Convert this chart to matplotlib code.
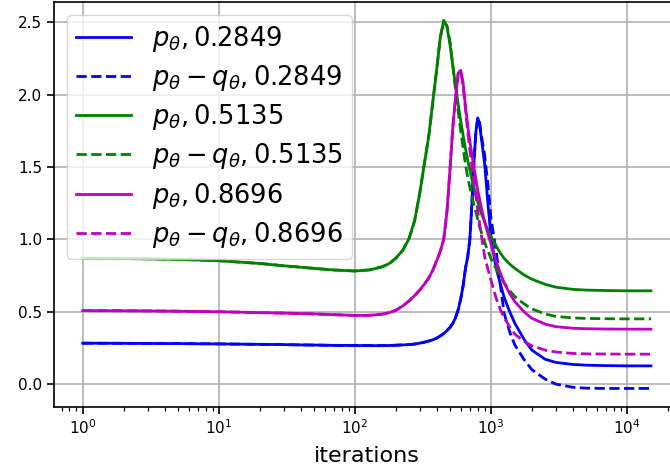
import matplotlib
matplotlib.use("Agg")
import matplotlib.pyplot as plt

# iteration checkpoints (denser around the peaks)
iters = [1, 2, 3, 5, 7, 10, 15, 20, 30, 40,
         50, 70, 100, 130, 160, 180, 200, 225, 250, 275,
         300, 325, 350, 375, 400, 425, 450, 475, 500, 525,
         550, 575, 600, 625, 650, 675, 700, 725, 750, 775,
         800, 825, 850, 875, 900, 950, 1000, 1050, 1100, 1175,
         1250, 1375, 1500, 1750, 2000, 2500, 3000, 4000, 5000, 7000,
         10000, 15000]

# blue run
p_blue = [0.283, 0.282, 0.281, 0.280, 0.279, 0.278, 0.276, 0.275, 0.273, 0.271,
          0.270, 0.268, 0.267, 0.266, 0.266, 0.267, 0.269, 0.271, 0.273, 0.277,
          0.283, 0.290, 0.298, 0.307, 0.318, 0.333, 0.350, 0.370, 0.392, 0.420,
          0.460, 0.515, 0.590, 0.680, 0.800, 0.880, 1.000, 1.250, 1.530, 1.740,
          1.840, 1.800, 1.700, 1.610, 1.520, 1.250, 1.020, 0.890, 0.790, 0.690,
          0.600, 0.500, 0.420, 0.310, 0.235, 0.172, 0.150, 0.136, 0.131, 0.128,
          0.126, 0.126]
pq_blue = [0.283, 0.282, 0.281, 0.280, 0.279, 0.278, 0.276, 0.275, 0.273, 0.271,
           0.270, 0.268, 0.267, 0.266, 0.266, 0.267, 0.269, 0.271, 0.273, 0.277,
           0.283, 0.290, 0.298, 0.307, 0.318, 0.333, 0.350, 0.370, 0.392, 0.420,
           0.460, 0.515, 0.590, 0.680, 0.800, 0.880, 1.000, 1.250, 1.530, 1.740,
           1.840, 1.810, 1.720, 1.650, 1.580, 1.380, 1.150, 1.020, 0.900, 0.680,
           0.490, 0.360, 0.270, 0.170, 0.100, 0.035, 0.000, -0.022, -0.028, -0.030,
           -0.030, -0.030]

# green run
p_green = [0.870, 0.868, 0.866, 0.862, 0.858, 0.853, 0.842, 0.834, 0.818, 0.808,
           0.800, 0.789, 0.782, 0.790, 0.812, 0.835, 0.870, 0.925, 1.005, 1.130,
           1.320, 1.530, 1.720, 1.960, 2.180, 2.400, 2.515, 2.470, 2.350, 2.200,
           2.060, 1.930, 1.820, 1.720, 1.630, 1.550, 1.480, 1.415, 1.360, 1.310,
           1.260, 1.220, 1.180, 1.150, 1.120, 1.065, 1.020, 0.985, 0.950, 0.905,
           0.870, 0.830, 0.800, 0.755, 0.725, 0.690, 0.670, 0.655, 0.650, 0.647,
           0.645, 0.645]
pq_green = [0.870, 0.868, 0.866, 0.862, 0.858, 0.853, 0.842, 0.834, 0.818, 0.808,
            0.800, 0.789, 0.782, 0.790, 0.812, 0.835, 0.870, 0.925, 1.005, 1.130,
            1.320, 1.530, 1.720, 1.960, 2.180, 2.400, 2.500, 2.480, 2.370, 2.200,
            2.030, 1.880, 1.750, 1.630, 1.520, 1.430, 1.360, 1.295, 1.240, 1.190,
            1.140, 1.090, 1.050, 1.015, 0.980, 0.920, 0.870, 0.828, 0.790, 0.742,
            0.700, 0.645, 0.605, 0.555, 0.520, 0.485, 0.468, 0.458, 0.454, 0.452,
            0.451, 0.451]

# magenta run
p_mag = [0.508, 0.507, 0.506, 0.504, 0.502, 0.500, 0.497, 0.494, 0.491, 0.488,
         0.485, 0.480, 0.475, 0.476, 0.484, 0.495, 0.510, 0.540, 0.575, 0.612,
         0.650, 0.692, 0.735, 0.790, 0.855, 0.920, 1.000, 1.190, 1.480, 1.780,
         1.980, 2.150, 2.170, 2.080, 1.920, 1.790, 1.680, 1.585, 1.500, 1.420,
         1.340, 1.280, 1.220, 1.170, 1.120, 1.040, 0.970, 0.900, 0.840, 0.765,
         0.700, 0.625, 0.570, 0.500, 0.455, 0.415, 0.397, 0.386, 0.383, 0.381,
         0.380, 0.380]
pq_mag = [0.508, 0.507, 0.506, 0.504, 0.502, 0.500, 0.497, 0.494, 0.491, 0.488,
          0.485, 0.480, 0.475, 0.476, 0.484, 0.495, 0.510, 0.540, 0.575, 0.612,
          0.650, 0.692, 0.735, 0.790, 0.855, 0.920, 1.000, 1.190, 1.480, 1.780,
          1.980, 2.150, 2.160, 2.060, 1.900, 1.750, 1.620, 1.505, 1.400, 1.300,
          1.200, 1.110, 1.030, 0.955, 0.880, 0.795, 0.720, 0.650, 0.585, 0.515,
          0.460, 0.395, 0.345, 0.295, 0.265, 0.235, 0.222, 0.212, 0.209, 0.208,
          0.207, 0.207]

labels = ["0.2849", "0.5135", "0.8696"]
colors = ["b", "g", "m"]

fig = plt.figure(figsize=(6.7, 4.72), dpi=100)
ax = fig.add_axes([0.081, 0.138, 0.933, 0.858])

runs = [(p_blue, pq_blue), (p_green, pq_green), (p_mag, pq_mag)]
for (p, pq), lab, c in zip(runs, labels, colors):
    ax.plot(iters, p, color=c, lw=2.0, label=r"$p_\theta, %s$" % lab)
    ax.plot(iters, pq, color=c, lw=2.0, ls="--",
            label=r"$p_\theta - q_\theta, %s$" % lab)

ax.set_xscale("log")
ax.set_xlabel("iterations", fontsize=16, labelpad=6)
ax.grid(True, lw=1.2)
ax.tick_params(axis="both", which="major", labelsize=11, length=5, width=1.2)
ax.tick_params(axis="both", which="minor", length=3, width=0.9)
for s in ax.spines.values():
    s.set_linewidth(1.2)
ax.legend(loc="upper left", fontsize=18.5, handlelength=2.15,
          labelspacing=0.36, borderpad=0.35)

fig.savefig("out.png", dpi=100)
